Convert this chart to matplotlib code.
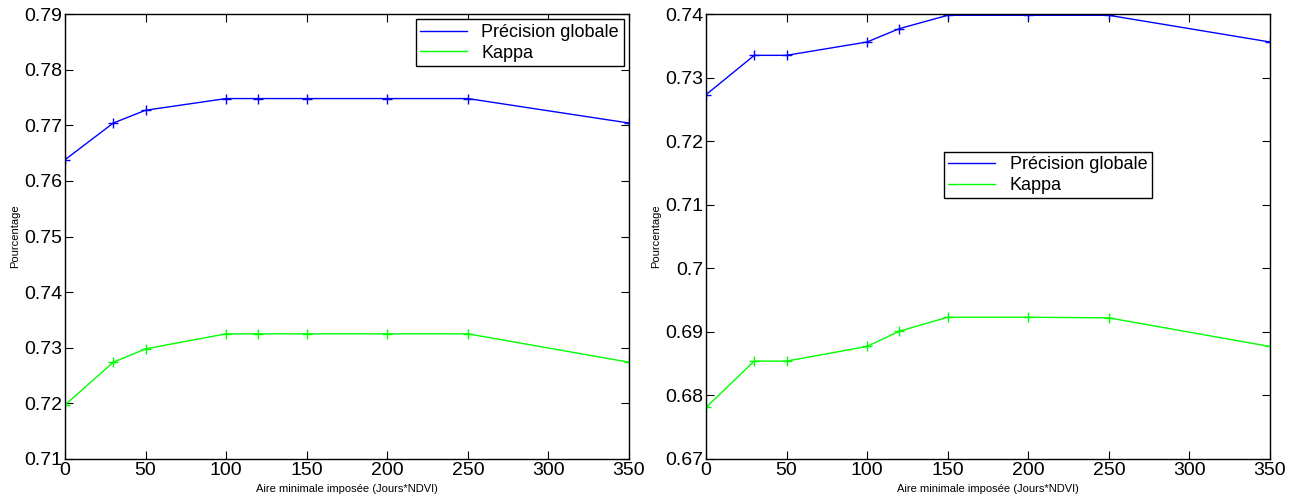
import matplotlib
matplotlib.use("Agg")
import matplotlib.pyplot as plt
from matplotlib.lines import Line2D

x_left = [0, 30, 50, 100, 120, 150, 200, 250, 350]
prec_left = [0.7638, 0.7704, 0.7727, 0.7748, 0.7748, 0.7748, 0.7748, 0.7748, 0.7704]
kappa_left = [0.7197, 0.7274, 0.7298, 0.7325, 0.7325, 0.7325, 0.7325, 0.7325, 0.7274]

x_right = [0, 30, 50, 100, 120, 150, 200, 250, 350]
prec_right = [0.7273, 0.7335, 0.7335, 0.7356, 0.7377, 0.7398, 0.7398, 0.7398, 0.7356]
kappa_right = [0.6781, 0.6854, 0.6854, 0.6877, 0.6901, 0.6923, 0.6923, 0.6922, 0.6877]

labels = ["Précision globale", "Kappa"]
xlabel = "Aire minimale imposée (Jours*NDVI)"
ylabel = "Pourcentage"
xticks = [0, 50, 100, 150, 200, 250, 300, 350]
yticks_left = [0.71, 0.72, 0.73, 0.74, 0.75, 0.76, 0.77, 0.78, 0.79]
yticks_right = [0.67, 0.68, 0.69, 0.70, 0.71, 0.72, 0.73, 0.74]
ytl_left = ["0.71", "0.72", "0.73", "0.74", "0.75", "0.76", "0.77", "0.78", "0.79"]
ytl_right = ["0.67", "0.68", "0.69", "0.7", "0.71", "0.72", "0.73", "0.74"]

plt.rcParams['font.family'] = ['Liberation Sans', 'DejaVu Sans']

fig = plt.figure(figsize=(13.02, 4.99), dpi=100)
ax1 = fig.add_axes([0.0499, 0.0802, 0.4332, 0.8917])
ax2 = fig.add_axes([0.5422, 0.0802, 0.4332, 0.8917])

colors = [(0, 0, 1), (0, 1, 0)]

def setup(ax, x, p, k, yt, ytl, ylim, legloc):
    ax.plot(x, p, color=colors[0], marker='+', markersize=7, linewidth=1)
    ax.plot(x, k, color=colors[1], marker='+', markersize=7, linewidth=1)
    ax.set_xlim(0, 350)
    ax.set_ylim(*ylim)
    ax.set_xticks(xticks)
    ax.set_xticklabels([str(t) for t in xticks])
    ax.set_yticks(yt)
    ax.set_yticklabels(ytl)
    ax.tick_params(direction='in', top=True, right=True, labelsize=14, length=6, pad=2)
    ax.set_xlabel(xlabel, fontsize=8, labelpad=4)
    ax.set_ylabel(ylabel, fontsize=8, labelpad=3)
    for s in ax.spines.values():
        s.set_linewidth(1)
    handles = [Line2D([], [], color=c, linewidth=1) for c in colors]
    leg = ax.legend(handles, labels, loc=legloc, fontsize=13, frameon=True, fancybox=False,
                    edgecolor='black', framealpha=1, handlelength=2.6,
                    borderpad=0.25, labelspacing=0.2, handletextpad=0.8,
                    borderaxespad=0.3)
    leg.get_frame().set_linewidth(1)
    return leg

setup(ax1, x_left, prec_left, kappa_left, yticks_left, ytl_left, (0.71, 0.79), 'upper right')
leg2 = setup(ax2, x_right, prec_right, kappa_right, yticks_right, ytl_right, (0.67, 0.74), 'center')
leg2.set_bbox_to_anchor((0.606, 0.638), transform=ax2.transAxes)

fig.savefig("out.png", dpi=100)
